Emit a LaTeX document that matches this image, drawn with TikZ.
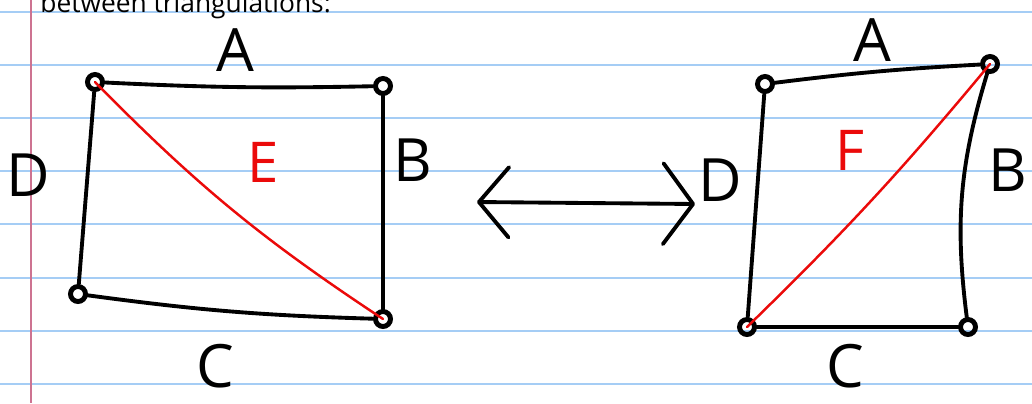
\documentclass[tikz,border=0pt]{standalone}
\usepackage{fontspec}
\setmainfont{Open Sans}
\usetikzlibrary{arrows.meta,positioning}
\usepackage{xcolor}
\definecolor{ruleblue}{RGB}{165,205,245}
\definecolor{marginred}{RGB}{205,115,145}
\definecolor{penred}{RGB}{235,10,10}

\begin{document}
\begin{tikzpicture}[x=0.02cm, y=-0.02cm,
  every node/.style={font=\fontsize{34}{34}\selectfont, inner sep=0pt},
  vtx/.style ={circle, draw, line width=2.8pt, minimum size=0.3cm},
  edg/.style ={line width=2.2pt, line cap=round},
  diag/.style={penred, line width=1.4pt, line cap=round},
  rlbl/.style={text=penred, font=\fontsize{32}{32}\selectfont},
  rule/.style={ruleblue, line width=1.1pt}
]
\clip (0,0) rectangle (1032,403);
\fill[white] (0,0) rectangle (1032,403);

%% ruled paper
\foreach \y in {12,65,118,171,224,278,331,384}
  \draw[rule] (0,\y) -- (1032,\y);
\draw[marginred, line width=1.1pt] (31,0) -- (31,403);

%% heading (cut off at the top)
\node[anchor=base west, font=\fontsize{15}{15}\selectfont] (head) at (40,12)
  {between triangulations:};

%% left triangulation
\node[vtx] (lTL) at (95,82)  {};
\node[vtx] (lTR) at (383,86) {};
\node[vtx] (lBR) at (383,319){};
\node[vtx] (lBL) at (78,294) {};
\draw[edg] (lTL) to[bend right=2] (lTR);
\draw[edg] (lTR) -- (lBR);
\draw[edg] (lBR) to[bend left=3] (lBL);
\draw[edg] (lBL) -- (lTL);
\draw[diag] (lTL.center) to[bend right=6] (lBR.center);

\node (lA) at (235,50)  {A};
\node (lB) at (413,160) {B};
\node (lC) at (215,366) {C};
\node (lD) at (28,175)  {D};
\node[rlbl] (lE) at (263,162) {E};

%% flip arrow
\coordinate (arrL) at (477,202);
\coordinate (arrR) at (695,204);
\draw[edg, {Straight Barb[round, length=17pt, width=40pt]}-{Straight Barb[round, length=17pt, width=46pt]}]
  (arrL) -- (arrR);

%% right triangulation
\node[vtx] (rTL) at (765,84)  {};
\node[vtx] (rTR) at (990,64)  {};
\node[vtx] (rBR) at (968,327) {};
\node[vtx] (rBL) at (747,327) {};
\draw[edg] (rTL) to[bend left=2] (rTR);
\draw[edg] (rTR) to[bend right=12] (rBR);
\draw[edg] (rBR) -- (rBL);
\draw[edg] (rBL) -- (rTL);
\draw[diag] (rBL.center) to[bend right=3] (rTR.center);

\node (rA) at (872,40)  {A};
\node (rB) at (1008,170){B};
\node (rC) at (845,366) {C};
\node (rD) at (720,180) {D};
\node[rlbl] (rF) at (850,150) {F};
\end{tikzpicture}
\end{document}
